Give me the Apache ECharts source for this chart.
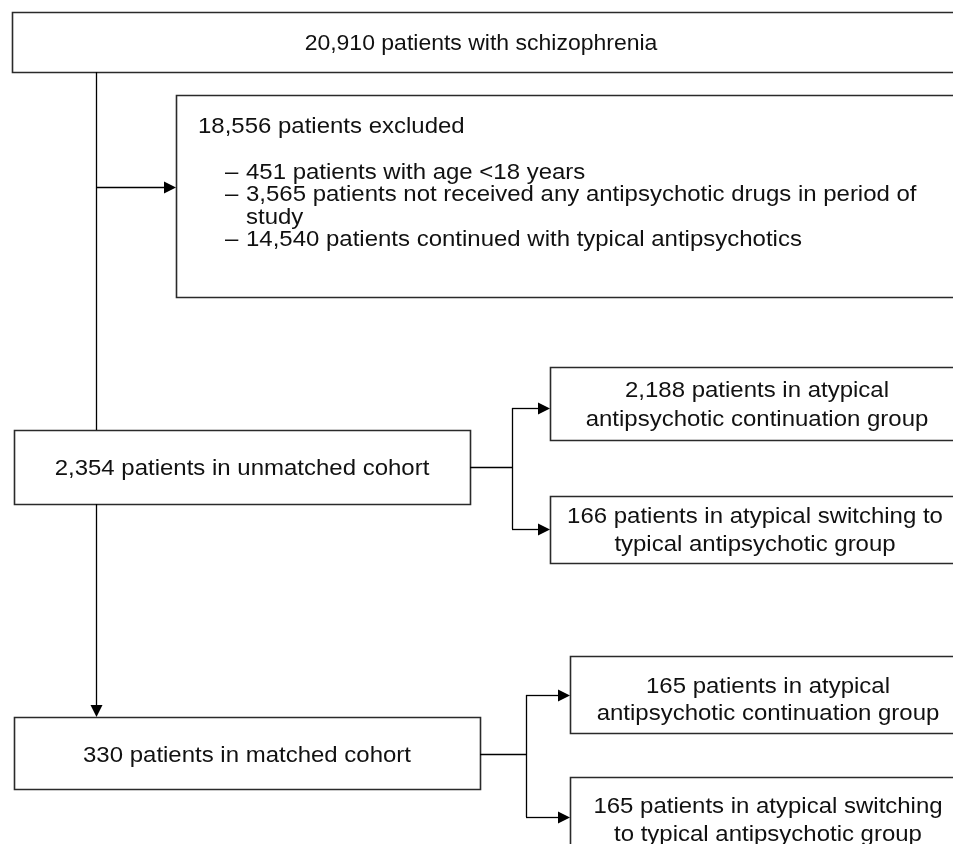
<!DOCTYPE html>
<html><head><meta charset="utf-8">
<script src="https://cdn.jsdelivr.net/npm/echarts@6/dist/echarts.min.js"></script>
<style>html,body{margin:0;padding:0;background:#fff}#c{width:953px;height:844px}</style>
</head><body><div id="c"></div>
<script>
// ---------------- data ----------------
const stageCounts = [20910, 18556, 2354, 2188, 166, 330, 165, 165];
const stageTexts = [
  '{n} patients with schizophrenia',
  '{n} patients excluded',
  '{n} patients in unmatched cohort',
  '{n} patients in atypical\nantipsychotic continuation group',
  '{n} patients in atypical switching to\ntypical antipsychotic group',
  '{n} patients in matched cohort',
  '{n} patients in atypical\nantipsychotic continuation group',
  '{n} patients in atypical switching\nto typical antipsychotic group'
];
const exclusionCounts = [451, 3565, 14540];
const exclusionTexts = [
  '{n} patients with age <18 years',
  '{n} patients not received any antipsychotic drugs in period of\nstudy',
  '{n} patients continued with typical antipsychotics'
];

// ---------------- layout (hidden pixel-space axes) ----------------
const boxRects = [[12,12,975,72],[176,95,975,297],[14,430,470,504],[550,367,975,440],[550,496,975,563],[14,717,480,789],[570,656,975,733],[570,777,975,880]];
const stageTextPos = [[481,44,'center'],[198,127,'left'],[242,469,'center'],[757,391,'center'],[755,517,'center'],[247,756,'center'],[768,687,'center'],[768,807,'center']];
const stageLineH = [23,23,23,29,28,23,27,28];
const stageScaleX = [1.045,1.09,1.09,1.09,1.09,1.09,1.09,1.09];
const exclusionDashX = 225, exclusionTextX = 246, exclusionFirstY = [173,195,240], exclusionLineH = 23;
const connectors = [
  {pts:[[96,72],[96,430]]},
  {pts:[[96,187],[176,187]], arrow:true},
  {pts:[[96,504],[96,717]], arrow:true},
  {pts:[[470,467],[512,467]]},
  {pts:[[512,408],[512,529]]},
  {pts:[[512,408],[550,408]], arrow:true},
  {pts:[[512,529],[550,529]], arrow:true},
  {pts:[[480,754],[526,754]]},
  {pts:[[526,695],[526,817]]},
  {pts:[[526,695],[570,695]], arrow:true},
  {pts:[[526,817],[570,817]], arrow:true}
];
const FONT = '"Liberation Sans", Arial, Helvetica, sans-serif';
const FS = 22;
const EX_SCALE = 1.09;

const fmt = n => String(n).replace(/\B(?=(\d{3})+(?!\d))/g, ',');

const chart = echarts.init(document.getElementById('c'), null, {renderer:'canvas'});
chart.setOption({
  animation: false,
  backgroundColor: '#fff',
  grid: {left:0, right:0, top:0, bottom:0},
  xAxis: {type:'value', min:0, max:953, show:false},
  yAxis: {type:'value', min:0, max:844, inverse:true, show:false},
  series: [
    { // boxes
      type:'custom', coordinateSystem:'cartesian2d', clip:false,
      data: boxRects.map((r,i)=>[i]),
      renderItem: (params, api) => {
        const r = boxRects[api.value(0)];
        const p0 = api.coord([r[0], r[1]]), p1 = api.coord([r[2], r[3]]);
        return {type:'rect', shape:{x:Math.round(p0[0])+0.5, y:Math.round(p0[1])+0.5, width:p1[0]-p0[0], height:p1[1]-p0[1]},
          style:{fill:'#fff', stroke:'#2a2a2a', lineWidth:1.6}};
      }
    },
    { // connectors + arrows
      type:'custom', coordinateSystem:'cartesian2d', clip:false,
      data: connectors.map((c,i)=>[i]),
      renderItem: (params, api) => {
        const c = connectors[api.value(0)];
        const a = api.coord(c.pts[0]), b = api.coord(c.pts[1]);
        const children = [];
        let end = b.slice();
        const L = 12, W = 6;
        let tri = null;
        if (c.arrow) {
          const dx = b[0]-a[0], dy = b[1]-a[1], len = Math.hypot(dx,dy);
          const ux = dx/len, uy = dy/len;
          end = [b[0]-ux*L, b[1]-uy*L];
          tri = [[b[0],b[1]],[end[0]-uy*W, end[1]+ux*W],[end[0]+uy*W, end[1]-ux*W]];
        }
        const snap = v => Math.round(v)+0.5;
        const horiz = a[1]===b[1];
        const pa = horiz ? [a[0], snap(a[1])] : [snap(a[0]), a[1]];
        const pe = horiz ? [end[0], snap(end[1])] : [snap(end[0]), end[1]];
        children.push({type:'line', shape:{x1:pa[0], y1:pa[1], x2:pe[0], y2:pe[1]}, style:{stroke:'#000', lineWidth:1.3}});
        if (tri) {
          const t = tri.map(p => horiz ? [p[0], p[1]+0.5] : [p[0]+0.5, p[1]]);
          children.push({type:'polygon', shape:{points:t}, style:{fill:'#000'}});
        }
        return {type:'group', children};
      }
    },
    { // stage texts
      type:'custom', coordinateSystem:'cartesian2d', clip:false,
      data: stageCounts.map((n,i)=>[i, n]),
      renderItem: (params, api) => {
        const i = api.value(0), n = api.value(1);
        const txt = stageTexts[i].replace('{n}', fmt(n));
        const lines = txt.split('\n').length;
        const pos = stageTextPos[i];
        const p = api.coord([pos[0], pos[1] + (lines-1)*stageLineH[i]/2]);
        return {type:'text', x:p[0], y:p[1], scaleX:stageScaleX[i], style:{text:txt, fill:'#111', fontSize:FS, fontFamily:FONT,
          align:pos[2], verticalAlign:'middle', lineHeight:stageLineH[i]}};
      }
    },
    { // exclusion reasons
      type:'custom', coordinateSystem:'cartesian2d', clip:false,
      data: exclusionCounts.map((n,i)=>[i, n]),
      renderItem: (params, api) => {
        const i = api.value(0), n = api.value(1);
        const txt = exclusionTexts[i].replace('{n}', fmt(n));
        const lines = txt.split('\n').length;
        const pd = api.coord([exclusionDashX, exclusionFirstY[i]]);
        const pt = api.coord([exclusionTextX, exclusionFirstY[i] + (lines-1)*exclusionLineH/2]);
        return {type:'group', children:[
          {type:'text', x:pd[0], y:pd[1], scaleX:EX_SCALE, style:{text:'\u2013', fill:'#111', fontSize:FS, fontFamily:FONT, align:'left', verticalAlign:'middle'}},
          {type:'text', x:pt[0], y:pt[1], scaleX:EX_SCALE, style:{text:txt, fill:'#111', fontSize:FS, fontFamily:FONT, align:'left', verticalAlign:'middle', lineHeight:exclusionLineH}}
        ]};
      }
    }
  ]
});
</script>
</body></html>
